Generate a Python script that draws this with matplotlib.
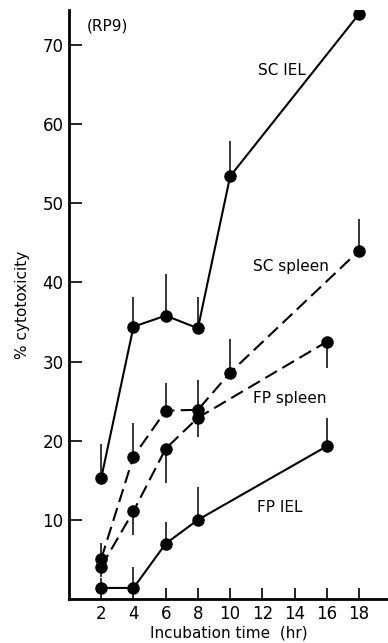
import matplotlib
matplotlib.use("Agg")
import matplotlib.pyplot as plt

hours_sc_iel = [2, 4, 6, 8, 10, 18]
sc_iel = [15.3, 34.4, 35.8, 34.2, 53.4, 73.9]
sc_iel_err = [4.3, 3.7, 5.3, 4.0, 4.4, 0.6]

hours_sc_spleen = [2, 4, 6, 8, 10, 18]
sc_spleen = [5.1, 18.0, 23.8, 23.9, 28.6, 44.0]
sc_spleen_err = [2.0, 4.2, 3.5, 3.8, 4.3, 4.0]

hours_fp_spleen = [2, 4, 6, 8, 16]
fp_spleen = [4.1, 11.1, 19.0, 22.9, 32.5]
fp_spleen_err = [1.3, 3.0, 4.3, 2.4, 3.3]

hours_fp_iel = [2, 4, 6, 8, 16]
fp_iel = [1.4, 1.4, 7.0, 10.0, 19.3]
fp_iel_err = [1.3, 2.7, 2.7, 4.1, 3.6]

x_ticks = [2, 4, 6, 8, 10, 12, 14, 16, 18]
y_ticks = [10, 20, 30, 40, 50, 60, 70]

fig = plt.figure(figsize=(3.88, 6.43), dpi=100)
ax = fig.add_axes([0.178, 0.0684, 0.822, 0.916])

def plot_series(x, y, err, dashed, down=False):
    ls = (0, (6.5, 3)) if dashed else '-'
    ax.plot(x, y, linestyle=ls, color='black', lw=1.5, marker='o',
            markersize=8, markerfacecolor='black', markeredgecolor='black', zorder=3)
    if down:
        yerr = [err, [0] * len(err)]
    else:
        yerr = [[0] * len(err), err]
    ax.errorbar(x, y, yerr=yerr, fmt='none', ecolor='black', elinewidth=1.1,
                capsize=0, zorder=2)

plot_series(hours_sc_iel, sc_iel, sc_iel_err, False)
plot_series(hours_sc_spleen, sc_spleen, sc_spleen_err, True)
plot_series(hours_fp_spleen, fp_spleen, fp_spleen_err, True, down=True)
plot_series(hours_fp_iel, fp_iel, fp_iel_err, False)

ax.set_xlim(0, 19.8)
ax.set_ylim(0, 74.4)
ax.set_xticks(x_ticks)
ax.set_xticklabels([str(t) for t in x_ticks])
ax.set_yticks(y_ticks)
ax.set_yticklabels([str(t) for t in y_ticks])
ax.tick_params(axis='y', direction='in', length=9, width=1.2, labelsize=12, pad=4)
ax.tick_params(axis='x', direction='in', length=8, width=1.2, labelsize=12, pad=4)
for s in ['top', 'right']:
    ax.spines[s].set_visible(False)
for s in ['left', 'bottom']:
    ax.spines[s].set_linewidth(2)

ax.set_xlabel('Incubation time  (hr)', fontsize=11, labelpad=2)
ax.set_ylabel('% cytotoxicity', fontsize=11, labelpad=9)

ax.text(13.2, 66.7, 'SC IEL', fontsize=11, ha='center', va='center')
ax.text(13.8, 42.0, 'SC spleen', fontsize=11, ha='center', va='center')
ax.text(13.7, 25.3, 'FP spleen', fontsize=11, ha='center', va='center')
ax.text(13.1, 11.6, 'FP IEL', fontsize=11, ha='center', va='center')
ax.text(2.4, 72.4, '(RP9)', fontsize=11, ha='center', va='center')

fig.savefig('out.png', dpi=100)
